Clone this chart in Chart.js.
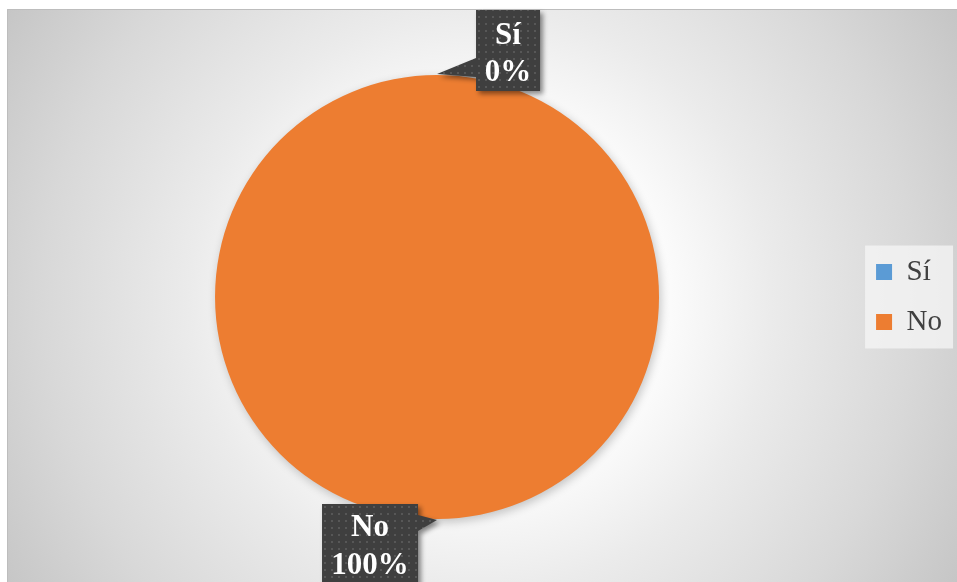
<!DOCTYPE html>
<html>
<head>
<meta charset="utf-8">
<script src="https://cdn.jsdelivr.net/npm/chart.js@4/dist/chart.umd.min.js"></script>
<style>
  html, body { margin: 0; padding: 0; background: #fff; }
  #wrap { width: 957px; height: 582px; }
</style>
</head>
<body>
<div id="wrap"><canvas id="pie" width="957" height="582"></canvas></div>
<script>
const categorias = ['Sí', 'No'];
const porcentajes = [0, 100];
const colores = ['#5B9BD5', '#ED7D31'];

// patrón de puntos para las etiquetas oscuras
function patronPuntos(ctx) {
  const c = document.createElement('canvas');
  c.width = 7; c.height = 7;
  const p = c.getContext('2d');
  p.fillStyle = '#3f3f3f';
  p.fillRect(0, 0, 7, 7);
  p.fillStyle = '#575757';
  p.fillRect(2, 2, 2, 2);
  return ctx.createPattern(c, 'repeat');
}

const fondo = {
  id: 'fondo',
  beforeDraw(chart) {
    const ctx = chart.ctx;
    const w = chart.width, h = chart.height;
    ctx.save();
    ctx.fillStyle = '#ffffff';
    ctx.fillRect(0, 0, w, h);
    const g = ctx.createRadialGradient(480, 300, 0, 480, 300, 560);
    g.addColorStop(0, '#ffffff');
    g.addColorStop(0.33, '#fcfcfc');
    g.addColorStop(0.52, '#ebebeb');
    g.addColorStop(0.78, '#d8d8d8');
    g.addColorStop(1, '#c5c5c5');
    ctx.fillStyle = g;
    ctx.fillRect(7, 9, w - 7, h - 9);
    ctx.strokeStyle = '#bdbdbd';
    ctx.lineWidth = 1;
    ctx.beginPath();
    ctx.moveTo(7.5, h);
    ctx.lineTo(7.5, 9.5);
    ctx.lineTo(w, 9.5);
    ctx.stroke();

    // recuadro de la leyenda
    const cajas = chart.legend.legendHitBoxes;
    if (cajas && cajas.length) {
      const x0 = cajas[0].left - 11;
      const y0 = cajas[0].top - 12;
      const ult = cajas[cajas.length - 1];
      const y1 = ult.top + ult.height + 12;
      ctx.fillStyle = 'rgba(245,245,245,0.75)';
      ctx.fillRect(x0, y0, 88, y1 - y0);
    }
    ctx.restore();
  }
};

const sombraPie = {
  id: 'sombraPie',
  beforeDatasetsDraw(chart) {
    const ctx = chart.ctx;
    ctx.save();
    ctx.shadowColor = 'rgba(0,0,0,0.22)';
    ctx.shadowBlur = 10;
    ctx.shadowOffsetX = 2;
    ctx.shadowOffsetY = 3;
  },
  afterDatasetsDraw(chart) {
    chart.ctx.restore();
  }
};

// etiquetas tipo globo con nombre y porcentaje
const globos = {
  id: 'globos',
  afterDraw(chart) {
    const ctx = chart.ctx;
    const meta = chart.getDatasetMeta(0);
    const relleno = patronPuntos(ctx);
    meta.data.forEach((arc, i) => {
      const p = arc.getProps(['x', 'y', 'startAngle', 'endAngle', 'outerRadius'], true);
      const ang = (p.startAngle + p.endAngle) / 2;
      const r = p.outerRadius + 1;
      const tx = p.x + Math.cos(ang) * r;
      const ty = p.y + Math.sin(ang) * r;
      let forma, cx, lineas;
      if (Math.sin(ang) < 0) {
        // globo arriba a la derecha
        const l = tx + 39, t = ty - 64, wd = 64, hg = 81;
        forma = [[l, t], [l + wd, t], [l + wd, t + hg], [l, t + hg], [l, ty + 3], [tx, ty], [l, ty - 16]];
        cx = l + wd / 2;
        lineas = [ty - 30, ty + 7];
      } else {
        // globo abajo a la izquierda
        const l = tx - 115, t = ty - 16, wd = 96, hg = 110;
        forma = [[l, t], [l + wd, t], [l + wd, ty - 5], [tx, ty], [l + wd, ty + 11], [l + wd, t + hg], [l, t + hg]];
        cx = l + wd / 2;
        lineas = [ty + 16, ty + 54];
      }
      ctx.save();
      ctx.shadowColor = 'rgba(0,0,0,0.45)';
      ctx.shadowBlur = 5;
      ctx.shadowOffsetX = 3;
      ctx.shadowOffsetY = 3;
      ctx.beginPath();
      forma.forEach((pt, k) => k ? ctx.lineTo(pt[0], pt[1]) : ctx.moveTo(pt[0], pt[1]));
      ctx.closePath();
      ctx.fillStyle = relleno;
      ctx.fill();
      ctx.restore();

      ctx.save();
      ctx.fillStyle = '#ffffff';
      ctx.font = 'bold 31px "Liberation Serif", "Times New Roman", serif';
      ctx.textAlign = 'center';
      ctx.textBaseline = 'alphabetic';
      ctx.fillText(categorias[i], cx, lineas[0]);
      ctx.fillText(porcentajes[i] + '%', cx, lineas[1]);
      ctx.restore();
    });
  }
};

new Chart(document.getElementById('pie'), {
  type: 'pie',
  data: {
    labels: categorias,
    datasets: [{
      data: porcentajes,
      backgroundColor: colores,
      borderWidth: 0
    }]
  },
  options: {
    responsive: false,
    animation: false,
    layout: { padding: { top: 75, bottom: 63, left: 19, right: 5 } },
    plugins: {
      tooltip: { enabled: false },
      legend: {
        position: 'right',
        labels: {
          boxWidth: 16,
          boxHeight: 16,
          padding: 21,
          color: '#404040',
          font: { family: '"Liberation Serif", "Times New Roman", serif', size: 29 }
        }
      }
    }
  },
  plugins: [fondo, sombraPie, globos]
});
</script>
</body>
</html>
